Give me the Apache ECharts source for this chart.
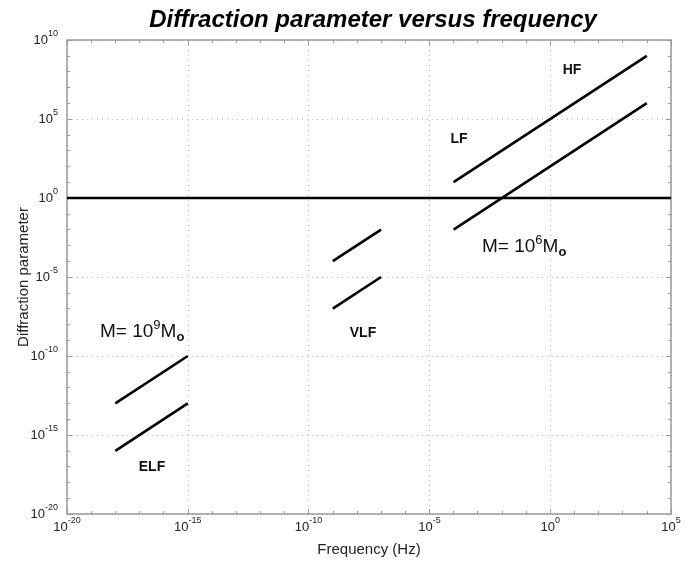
<!DOCTYPE html>
<html>
<head>
<meta charset="utf-8">
<script src="https://cdn.jsdelivr.net/npm/echarts@6/dist/echarts.min.js"></script>
<style>
html,body{margin:0;padding:0;background:#fff;}
#chart{width:685px;height:565px;}
</style>
</head>
<body>
<div id="chart"></div>
<script>
// ---- data (frequency in Hz, diffraction parameter) ----
var xTickExponents = [-20, -15, -10, -5, 0, 5];
var yTickExponents = [-20, -15, -10, -5, 0, 5, 10];

var elfFreq = [1e-18, 1e-15];
var elfUpper = [1e-13, 1e-10];
var elfLower = [1e-16, 1e-13];

var vlfFreq = [1e-9, 1e-7];
var vlfUpper = [1e-4, 1e-2];
var vlfLower = [1e-7, 1e-5];

var hfFreq = [1e-4, 1e4];
var hfUpper = [1e1, 1e9];
var hfLower = [1e-2, 1e6];

var unityFreq = [1e-20, 1e5];
var unityValue = [1, 1];

var titleText = 'Diffraction parameter versus frequency';
var xName = 'Frequency (Hz)';
var yName = 'Diffraction parameter';

// the axes are decades (log10 of the value), so the values are mapped through log10
function pairs(xs, ys) {
  return xs.map(function (x, i) { return [Math.log10(x), Math.log10(ys[i])]; });
}

var chart = echarts.init(document.getElementById('chart'));
var FONT = '"Liberation Sans", Arial, sans-serif';
var AX = '#9a9a9a';

function expLabel(v) {
  return '{b|10}{e|' + Math.round(v) + '}';
}
var rich = {
  b: { fontSize: 13, lineHeight: 13, fontFamily: FONT, color: '#222' },
  e: { fontSize: 9, lineHeight: 9, fontFamily: FONT, color: '#222', padding: [0, 0, 13, 0] }
};

function lineSeries(data, w) {
  return {
    type: 'line', data: data, symbol: 'none', silent: true,
    lineStyle: { color: '#000', width: w || 2.6 }, z: 5, animation: false
  };
}

function axisBase(exps) {
  return {
    type: 'value',
    min: exps[0], max: exps[exps.length - 1], interval: exps[1] - exps[0],
    axisLine: { show: true, onZero: false, lineStyle: { color: AX, width: 1.5 } },
    axisTick: { show: true, inside: true, length: 5, lineStyle: { color: AX } },
    minorTick: { show: true, splitNumber: 5, length: 3, lineStyle: { color: AX } },
    splitLine: { show: false },
    minorSplitLine: { show: false }
  };
}
var gridDots = { show: true, lineStyle: { color: '#b5b5b5', type: [1, 4], width: 1 } };

var option = {
  backgroundColor: '#fff',
  animation: false,
  title: {
    text: titleText, left: 368, top: 3, textAlign: 'center',
    textStyle: { fontFamily: FONT, fontSize: 24, fontWeight: 'bold', fontStyle: 'italic', color: '#000' }
  },
  grid: { left: 67, right: 14, top: 40, bottom: 51, containLabel: false, outerBoundsMode: 'none' },
  xAxis: [
    Object.assign(axisBase(xTickExponents), {
      position: 'bottom',
      name: xName, nameLocation: 'middle', nameGap: 28, nameMoveOverlap: false,
      nameTextStyle: { fontFamily: FONT, fontSize: 15, color: '#222' },
      axisLabel: { formatter: expLabel, rich: rich, margin: 7 },
      splitLine: gridDots
    }),
    Object.assign(axisBase(xTickExponents), { position: 'top', axisLabel: { show: false } })
  ],
  yAxis: [
    Object.assign(axisBase(yTickExponents), {
      position: 'left',
      name: yName, nameLocation: 'middle', nameGap: 36, nameMoveOverlap: false,
      nameTextStyle: { fontFamily: FONT, fontSize: 15, color: '#222' },
      axisLabel: { formatter: expLabel, rich: rich, margin: 9 },
      splitLine: gridDots
    }),
    Object.assign(axisBase(yTickExponents), { position: 'right', axisLabel: { show: false } })
  ],
  series: [
    lineSeries(pairs(unityFreq, unityValue), 2.6),
    lineSeries(pairs(elfFreq, elfUpper)),
    lineSeries(pairs(elfFreq, elfLower)),
    lineSeries(pairs(vlfFreq, vlfUpper)),
    lineSeries(pairs(vlfFreq, vlfLower)),
    lineSeries(pairs(hfFreq, hfUpper)),
    lineSeries(pairs(hfFreq, hfLower))
  ],
  graphic: [
    { type: 'text', x: 572, y: 70, style: { text: 'HF', font: 'bold 14px ' + FONT, fill: '#111', align: 'center', verticalAlign: 'middle' } },
    { type: 'text', x: 459, y: 139, style: { text: 'LF', font: 'bold 14px ' + FONT, fill: '#111', align: 'center', verticalAlign: 'middle' } },
    { type: 'text', x: 363, y: 333, style: { text: 'VLF', font: 'bold 14px ' + FONT, fill: '#111', align: 'center', verticalAlign: 'middle' } },
    { type: 'text', x: 152, y: 467, style: { text: 'ELF', font: 'bold 14px ' + FONT, fill: '#111', align: 'center', verticalAlign: 'middle' } },
    { type: 'text', x: 482, y: 247, style: {
        text: '{m|M= 10}{s|6}{m|M}{o|o}', align: 'left', verticalAlign: 'middle',
        rich: {
          m: { fontSize: 19, fontFamily: FONT, fill: '#111' },
          s: { fontSize: 13, fontFamily: FONT, fill: '#111', padding: [0, 0, 14, 0] },
          o: { fontSize: 13, fontFamily: FONT, fontWeight: 'bold', fill: '#111', padding: [10, 0, 0, 0] }
        } } },
    { type: 'text', x: 100, y: 332, style: {
        text: '{m|M= 10}{s|9}{m|M}{o|o}', align: 'left', verticalAlign: 'middle',
        rich: {
          m: { fontSize: 19, fontFamily: FONT, fill: '#111' },
          s: { fontSize: 13, fontFamily: FONT, fill: '#111', padding: [0, 0, 14, 0] },
          o: { fontSize: 13, fontFamily: FONT, fontWeight: 'bold', fill: '#111', padding: [10, 0, 0, 0] }
        } } }
  ]
};
chart.setOption(option);
</script>
</body>
</html>
